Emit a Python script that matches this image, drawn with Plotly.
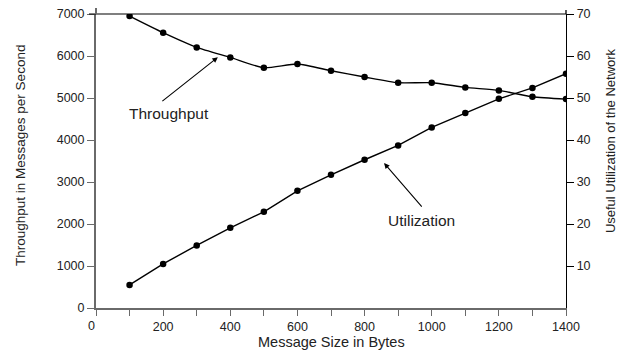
import plotly.graph_objects as go

sizes = [100, 200, 300, 400, 500, 600, 700, 800, 900, 1000, 1100, 1200, 1300, 1400]
throughput = [6950, 6555, 6205, 5967, 5721, 5808, 5649, 5499, 5363, 5363, 5252, 5181, 5030, 4974]
utilization = [5.5, 10.5, 14.9, 19.1, 22.9, 27.9, 31.7, 35.3, 38.7, 43.0, 46.4, 49.8, 52.4, 55.8]

x_ticks = list(range(0, 1500, 100))
x_ticktext = ["" if (v % 200 or v == 0) else str(v) for v in x_ticks]
y_left_ticks = list(range(0, 8000, 1000))
y_right_ticks = list(range(10, 80, 10))

font = "Liberation Sans, Arial, sans-serif"
gray = "#6a6a6a"
tick_font = dict(size=12.5, color="#222")
title_font = dict(size=14.5, color="#222")

fig = go.Figure()
fig.add_trace(go.Scatter(x=sizes, y=throughput, mode="lines+markers",
                         line=dict(color="black", width=1.4, shape="spline", smoothing=0.6),
                         marker=dict(color="black", size=6.5), yaxis="y", showlegend=False))
fig.add_trace(go.Scatter(x=sizes, y=utilization, mode="lines+markers",
                         line=dict(color="black", width=1.4),
                         marker=dict(color="black", size=6.5), yaxis="y2", showlegend=False))

fig.update_layout(
    width=625, height=351,
    margin=dict(l=96, r=59, t=14, b=43, autoexpand=False),
    plot_bgcolor="white", paper_bgcolor="white",
    font=dict(family=font, size=12.5, color="#222"),
    xaxis=dict(range=[0, 1400], tickvals=x_ticks, ticktext=x_ticktext, tickfont=tick_font,
               ticks="outside", ticklen=6, tickcolor=gray, showline=True, linecolor=gray,
               linewidth=2, showgrid=False, zeroline=False, automargin=False),
    yaxis=dict(range=[0, 7000], tickvals=y_left_ticks, ticks="outside", ticklen=7,
               tickfont=tick_font, tickcolor=gray, showline=True, linecolor=gray, linewidth=2,
               showgrid=False, zeroline=False, automargin=False),
    yaxis2=dict(range=[0, 70], tickvals=y_right_ticks, overlaying="y", side="right",
                tickfont=tick_font, ticks="outside", ticklen=7, tickcolor="black", showline=True,
                linecolor="black", linewidth=1.3, showgrid=False, zeroline=False, automargin=False),
    shapes=[
        dict(type="line", xref="paper", yref="paper", x0=-0.015, x1=1, y0=1, y1=1,
             line=dict(color="black", width=1.2)),
        dict(type="line", xref="paper", yref="paper", x0=0, x1=0, y0=1, y1=1.02,
             line=dict(color=gray, width=2)),
        dict(type="line", xref="paper", yref="paper", x0=1, x1=1, y0=1, y1=1.014,
             line=dict(color="black", width=1.3)),
    ],
    annotations=[
        dict(x=-0.162, y=0.52, xref="paper", yref="paper", text="Throughput in Messages per Second",
             textangle=-90, showarrow=False, font=dict(size=13.5, color="#222"),
             xanchor="center", yanchor="middle"),
        dict(x=1.0936, y=0.571, xref="paper", yref="paper", text="Useful Utilization of the Network",
             textangle=-90, showarrow=False, font=dict(size=13, color="#222"),
             xanchor="center", yanchor="middle"),
        dict(x=0.5, y=-0.1146, xref="paper", yref="paper", text="Message Size in Bytes",
             showarrow=False, font=title_font, xanchor="center", yanchor="middle"),
        dict(x=0, y=0, xref="x", yref="y", text="0", showarrow=False,
             xshift=-5, yshift=-18, font=tick_font),
        dict(x=363, y=5969, xref="x", yref="y", ax=-57, ay=45, text="", showarrow=True,
             arrowhead=2, arrowsize=1, arrowwidth=1.1, arrowcolor="black"),
        dict(x=217, y=4620, xref="x", yref="y", text="Throughput", showarrow=False,
             font=dict(size=15.5, color="#222")),
        dict(x=858, y=34.5, xref="x", yref="y2", ax=39, ay=45, text="", showarrow=True,
             arrowhead=2, arrowsize=1, arrowwidth=1.1, arrowcolor="black"),
        dict(x=971, y=20.8, xref="x", yref="y2", text="Utilization", showarrow=False,
             font=dict(size=15.5, color="#222")),
    ],
)
fig.write_html("out.html")
